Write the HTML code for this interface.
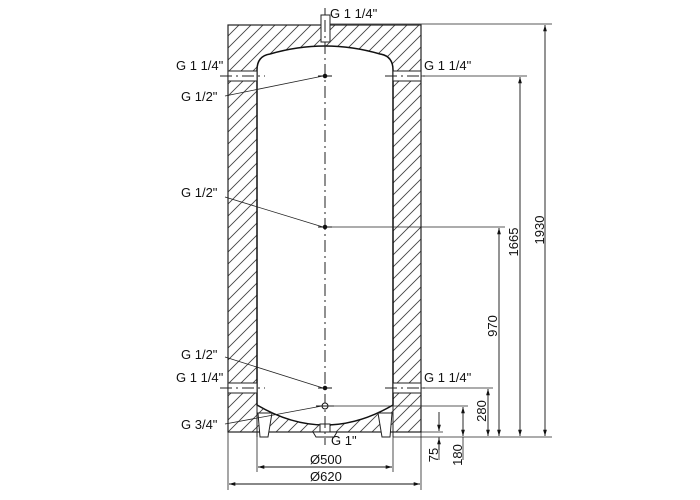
<!DOCTYPE html>
<html><head><meta charset="utf-8"><style>
html,body{margin:0;padding:0;background:#fff;}
svg{display:block;}
text{font-family:"Liberation Sans",Arial,sans-serif;font-size:13px;fill:#111;}
</style></head><body>
<svg width="700" height="500" viewBox="0 0 700 500" xmlns="http://www.w3.org/2000/svg">
<defs>
<pattern id="h" patternUnits="userSpaceOnUse" width="12" height="12">
<path d="M-3,15 L15,-3 M-3,3 L3,-3 M9,15 L15,9" stroke="#444" stroke-width="0.9"/>
</pattern>
<marker id="a" viewBox="0 0 10 10" refX="10" refY="5" markerWidth="7" markerHeight="7" orient="auto-start-reverse"><path d="M0,2 L10,5 L0,8 z" fill="#111"/></marker>
</defs>
<path fill="url(#h)" fill-rule="evenodd" stroke="none" d="M228,25 H421 V432 H228 Z M257,405 V70 Q257,56 270,54 Q325,38 380,54 Q393,56 393,70 V405 Q325,445 257,405 Z"/>
<rect x="228" y="25" width="193" height="407" fill="none" stroke="#222" stroke-width="1.2"/>
<path d="M257,405 V70 Q257,56 270,54 Q325,38 380,54 Q393,56 393,70 V405 Q325,445 257,405 Z" fill="#fff" stroke="#111" stroke-width="1.5"/>
<line x1="257" y1="405" x2="257" y2="437" stroke="#222"/>
<line x1="393" y1="405" x2="393" y2="437" stroke="#222"/>
<path d="M258,413 L272,413 L268,437 L260,437 Z" fill="#fff" stroke="#222"/>
<path d="M378,413 L392,413 L390,437 L382,437 Z" fill="#fff" stroke="#222"/>
<rect x="320" y="424" width="10" height="8" fill="#fff" stroke="#222"/>
<path d="M313,432 H337 L334,437 H316 Z" fill="#fff" stroke="#222"/>
<rect x="321" y="15" width="9" height="27" fill="#fff" stroke="#222"/>
<line x1="325" y1="8" x2="325" y2="15" stroke="#222"/>
<rect x="228" y="71" width="29" height="10" fill="#fff" stroke="#222"/>
<rect x="393" y="71" width="28" height="10" fill="#fff" stroke="#222"/>
<rect x="228" y="383" width="29" height="10" fill="#fff" stroke="#222"/>
<rect x="393" y="383" width="28" height="10" fill="#fff" stroke="#222"/>
<g stroke="#222" stroke-width="1" stroke-dasharray="12,4,2,4">
<line x1="220" y1="76" x2="265" y2="76"/><line x1="385" y1="76" x2="428" y2="76"/>
<line x1="220" y1="388" x2="265" y2="388"/><line x1="385" y1="388" x2="428" y2="388"/>
<line x1="325" y1="20" x2="325" y2="445"/>
</g>
<g stroke="#111" fill="#111">
<circle cx="325" cy="76" r="1.8"/><circle cx="325" cy="227" r="1.8"/><circle cx="325" cy="388" r="1.8"/>
<line x1="318" y1="76" x2="332" y2="76"/><line x1="318" y1="227" x2="332" y2="227"/><line x1="318" y1="388" x2="332" y2="388"/>
</g>
<circle cx="325" cy="406" r="3" fill="#fff" stroke="#111"/>
<line x1="316" y1="406" x2="334" y2="406" stroke="#111"/>
<g stroke="#222" stroke-width="0.8" fill="none">
<line x1="225" y1="96" x2="323" y2="76"/>
<line x1="225" y1="197" x2="323" y2="227"/>
<line x1="225" y1="357" x2="323" y2="388"/>
<line x1="225" y1="424" x2="322" y2="406"/>
<line x1="330" y1="24" x2="552" y2="24"/>
<line x1="421" y1="76" x2="527" y2="76"/>
<line x1="332" y1="227" x2="505" y2="227"/>
<line x1="421" y1="388" x2="493" y2="388"/>
<line x1="328" y1="406" x2="468" y2="406"/>
<line x1="421" y1="432" x2="443" y2="432"/>
<line x1="393" y1="437" x2="552" y2="437"/>
<line x1="228" y1="432" x2="228" y2="490"/>
<line x1="421" y1="432" x2="421" y2="490"/>
<line x1="257" y1="437" x2="257" y2="472"/>
<line x1="393" y1="437" x2="393" y2="472"/>
<line x1="439" y1="437" x2="439" y2="460"/>
<line x1="463" y1="437" x2="463" y2="460"/>
</g>
<g stroke="#111" stroke-width="0.9" fill="none">
<line x1="545" y1="25" x2="545" y2="436" marker-start="url(#a)" marker-end="url(#a)"/>
<line x1="520" y1="77" x2="520" y2="436" marker-start="url(#a)" marker-end="url(#a)"/>
<line x1="499" y1="228" x2="499" y2="436" marker-start="url(#a)" marker-end="url(#a)"/>
<line x1="488" y1="389" x2="488" y2="436" marker-start="url(#a)" marker-end="url(#a)"/>
<line x1="463" y1="407" x2="463" y2="436" marker-start="url(#a)" marker-end="url(#a)"/>
<line x1="439" y1="412" x2="439" y2="431" marker-end="url(#a)"/>
<line x1="439" y1="450" x2="439" y2="438" marker-end="url(#a)"/>
<line x1="258" y1="467" x2="392" y2="467" marker-start="url(#a)" marker-end="url(#a)"/>
<line x1="229" y1="484" x2="420" y2="484" marker-start="url(#a)" marker-end="url(#a)"/>
</g>
<text x="330" y="18">G 1 1/4"</text>
<text x="176" y="70">G 1 1/4"</text>
<text x="424" y="70">G 1 1/4"</text>
<text x="181" y="101">G 1/2"</text>
<text x="181" y="197">G 1/2"</text>
<text x="181" y="359">G 1/2"</text>
<text x="176" y="382">G 1 1/4"</text>
<text x="424" y="382">G 1 1/4"</text>
<text x="181" y="429">G 3/4"</text>
<text x="331" y="445">G 1"</text>
<text x="310" y="464">Ø500</text>
<text x="310" y="481">Ø620</text>
<text transform="translate(544,230) rotate(-90)" text-anchor="middle">1930</text>
<text transform="translate(518,242) rotate(-90)" text-anchor="middle">1665</text>
<text transform="translate(497,326) rotate(-90)" text-anchor="middle">970</text>
<text transform="translate(486,411) rotate(-90)" text-anchor="middle">280</text>
<text transform="translate(462,455) rotate(-90)" text-anchor="middle">180</text>
<text transform="translate(438,455) rotate(-90)" text-anchor="middle">75</text>
</svg>
</body></html>
